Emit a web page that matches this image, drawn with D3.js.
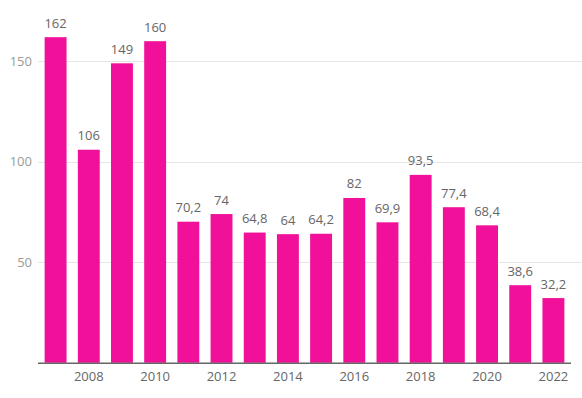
<!DOCTYPE html>
<html>
<head>
<meta charset="utf-8">
<script src="https://cdn.jsdelivr.net/npm/d3@7"></script>
<style>
  body { margin: 0; background: #fff; }
  text { font-family: "Open Sans", sans-serif; }
</style>
</head>
<body>
<div id="chart"></div>
<script>
let years = [2007, 2008, 2009, 2010, 2011, 2012, 2013, 2014, 2015, 2016, 2017, 2018, 2019, 2020, 2021, 2022];
let values = [162, 106, 149, 160, 70.2, 74, 64.8, 64, 64.2, 82, 69.9, 93.5, 77.4, 68.4, 38.6, 32.2];
let yTicks = [50, 100, 150];
let xTicks = [2008, 2010, 2012, 2014, 2016, 2018, 2020, 2022];

let totalW = 582, totalH = 398;
let margin = {top: 0, right: 11, bottom: 35, left: 38};
let width = totalW - margin.left - margin.right;
let height = 362.8 - margin.top;

let svg = d3.select("#chart")
    .append("svg")
        .attr("width", totalW)
        .attr("height", totalH)
    .append("g")
        .attr("transform", "translate(" + margin.left + "," + margin.top + ")");

let x = d3.scaleBand()
    .domain(years)
    .range([0, width])
    .paddingInner(0.34)
    .paddingOuter(0.2);

let y = d3.scaleLinear()
    .domain([0, 180.5])
    .range([height, 0]);

// grid
svg.append("g")
    .selectAll("line")
    .data(yTicks)
    .enter()
    .append("line")
    .attr("x1", 0)
    .attr("x2", width + 11)
    .attr("y1", d => Math.round(y(d)) + 0.5)
    .attr("y2", d => Math.round(y(d)) + 0.5)
    .attr("stroke", "#e6e6e6");

// y tick labels
svg.append("g")
    .selectAll("text")
    .data(yTicks)
    .enter()
    .append("text")
    .attr("x", -6)
    .attr("y", d => y(d) + 4.5)
    .attr("text-anchor", "end")
    .style("font-size", "13px")
    .style("fill", "#999")
    .text(d => d);

// bars
svg.append("g")
    .selectAll("rect")
    .data(values)
    .enter()
    .append("rect")
    .attr("x", (d, i) => x(years[i]))
    .attr("y", d => y(d))
    .attr("width", x.bandwidth())
    .attr("height", d => height - y(d))
    .style("fill", "#f0109a");

// value labels
svg.append("g")
    .selectAll("text")
    .data(values)
    .enter()
    .append("text")
    .attr("x", (d, i) => x(years[i]) + x.bandwidth() / 2)
    .attr("y", d => y(d) - 9.5)
    .attr("text-anchor", "middle")
    .style("font-size", "13px")
    .style("fill", "#666")
    .text(d => String(d).replace(".", ","));

// x axis line
svg.append("line")
    .attr("x1", 0)
    .attr("x2", width)
    .attr("y1", height + 0.5)
    .attr("y2", height + 0.5)
    .attr("stroke", "#666")
    .attr("stroke-width", 1.5);

// x tick labels
svg.append("g")
    .selectAll("text")
    .data(xTicks)
    .enter()
    .append("text")
    .attr("x", d => x(d) + x.bandwidth() / 2)
    .attr("y", height + 18.5)
    .attr("text-anchor", "middle")
    .style("font-size", "13px")
    .style("fill", "#666")
    .text(d => d);
</script>
</body>
</html>
